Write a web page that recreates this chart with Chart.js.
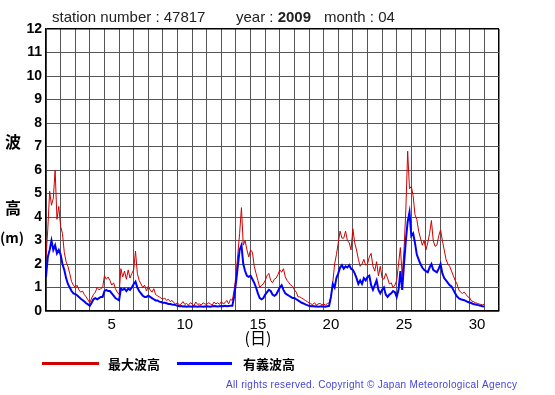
<!DOCTYPE html>
<html><head><meta charset="utf-8">
<script src="https://cdn.jsdelivr.net/npm/chart.js@4"></script>
<style>html,body{margin:0;padding:0;background:#fff;overflow:hidden}#wrap{width:555px;height:395px}</style>
</head><body><div id="wrap"><canvas id="c" width="555" height="395"></canvas></div>
<script>
// ---- data (3-hourly samples, starting day 1 00:00) ----
const stationNumber = '47817';
const yearText = '2009';
const monthText = '04';
const firstDay = 1;
const stepsPerDay = 8;
const seriesNames = ['最大波高', '有義波高'];
const dayLabels = [5, 10, 15, 20, 25, 30];
const yMax = 12;

const maxWave = [
  2.3, 3.5, 5.1, 4.5, 4.8, 6.0, 3.9, 4.45,
  3.6, 3.3, 2.5, 2.1, 1.9, 1.6, 1.25, 1.1,
  1.0, 1.1, 0.9, 0.8, 0.85, 0.7, 0.6, 0.47,
  0.35, 0.55, 0.7, 0.8, 1.0, 0.9, 0.95, 1.0,
  1.5, 1.35, 1.45, 1.3, 1.1, 1.2, 0.95, 0.8,
  0.7, 1.8, 1.45, 1.7, 1.35, 1.75, 1.4, 1.6,
  1.75, 2.55, 1.6, 1.3, 1.15, 1.0, 1.1, 0.85,
  1.05, 0.9, 0.8, 0.95, 0.7, 0.65, 0.6, 0.55,
  0.5, 0.55, 0.45, 0.5, 0.4, 0.45, 0.35, 0.3,
  0.35, 0.25, 0.3, 0.4, 0.28, 0.32, 0.25, 0.35,
  0.3, 0.22, 0.38, 0.28, 0.3, 0.25, 0.35, 0.3,
  0.28, 0.35, 0.3, 0.25, 0.38, 0.3, 0.35, 0.28,
  0.4, 0.3, 0.35, 0.45, 0.3, 0.5, 0.45, 0.9,
  1.5, 2.4, 3.3, 4.4, 2.8, 3.0, 2.6, 2.3,
  2.6, 2.5, 1.9, 1.6, 1.3, 1.0, 1.1, 1.15,
  1.3, 1.5, 1.6, 1.3, 1.2, 1.35, 1.4, 1.55,
  1.75, 1.65, 1.8, 1.45, 1.3, 1.2, 1.1, 1.05,
  0.9, 0.8, 0.6, 0.6, 0.55, 0.5, 0.45, 0.4,
  0.35, 0.3, 0.28, 0.35, 0.25, 0.3, 0.32, 0.27,
  0.3, 0.25, 0.32, 0.35, 0.6, 1.2, 2.0, 2.4,
  2.9, 3.4, 3.1, 3.1, 3.4, 3.0, 2.9, 2.6,
  3.5, 2.9, 2.6, 2.2, 1.9, 2.0, 2.2, 1.95,
  2.0, 2.3, 2.45, 1.9, 1.7, 2.1, 1.5, 1.9,
  1.4, 1.35, 1.6, 1.4, 1.15, 1.2, 1.0, 1.1,
  1.3, 2.0, 2.7, 1.5, 2.6, 4.3, 6.8, 5.2,
  5.3, 4.9, 4.1, 3.9, 3.4, 3.1, 2.8, 3.0,
  2.6, 2.9, 3.3, 3.85, 3.0, 2.75, 2.8, 3.2,
  3.45, 3.0, 2.6, 2.2, 2.0, 1.9, 1.7, 1.5,
  1.3, 1.15, 0.9, 0.8, 0.75, 0.8, 0.7, 0.6,
  0.55, 0.42, 0.4, 0.35, 0.33, 0.3, 0.28, 0.26,
  0.3
];

const sigWave = [
  1.45, 2.3, 2.6, 3.0, 2.6, 2.8, 2.45, 2.6,
  2.4, 2.0, 1.75, 1.4, 1.15, 1.0, 0.85, 0.75,
  0.72, 0.67, 0.6, 0.52, 0.47, 0.4, 0.33, 0.28,
  0.22, 0.35, 0.5, 0.55, 0.5, 0.55, 0.6, 0.6,
  0.85, 0.9, 0.85, 0.85, 0.75, 0.65, 0.55, 0.5,
  0.45, 0.95, 0.9, 0.95, 0.85, 0.95, 0.9, 1.0,
  1.15, 1.25, 1.0, 0.85, 0.75, 0.65, 0.6, 0.6,
  0.65, 0.6, 0.55, 0.5, 0.45, 0.45, 0.4, 0.38,
  0.35, 0.35, 0.33, 0.3, 0.3, 0.28, 0.27, 0.25,
  0.22, 0.2, 0.21, 0.19, 0.2, 0.18, 0.2, 0.19,
  0.18, 0.2, 0.19, 0.18, 0.2, 0.19, 0.18, 0.19,
  0.2, 0.19, 0.18, 0.2, 0.21, 0.2, 0.19, 0.2,
  0.21, 0.2, 0.22, 0.2, 0.21, 0.22, 0.22, 0.6,
  1.2, 1.9, 2.6, 2.8, 2.0, 1.7, 1.5, 1.45,
  1.5, 1.35, 1.2, 1.0, 0.75, 0.55, 0.5, 0.55,
  0.7, 0.8, 0.9, 0.85, 0.7, 0.65, 0.7, 0.85,
  1.0, 1.1, 0.9, 0.75, 0.7, 0.65, 0.6, 0.55,
  0.55, 0.5, 0.45, 0.4, 0.35, 0.32, 0.28, 0.25,
  0.22, 0.2, 0.21, 0.19, 0.2, 0.18, 0.19, 0.2,
  0.19, 0.18, 0.2, 0.22, 0.6, 1.15, 1.0, 1.4,
  1.6, 1.85, 1.95, 1.8, 1.9, 1.85, 1.95, 1.8,
  1.75, 1.6, 1.4, 1.15, 1.3, 1.15, 1.4, 1.3,
  1.45, 1.5, 1.1, 0.9, 1.1, 1.3, 0.9, 0.75,
  0.9, 1.0, 0.7, 0.6, 0.7, 0.75, 0.85, 0.8,
  0.6, 0.9, 1.7, 0.9, 2.0, 3.0, 3.8, 4.2,
  3.2, 3.3, 2.9, 2.4, 2.2, 2.0, 1.85, 1.75,
  1.7, 1.65, 1.85, 2.0, 1.75, 1.7, 1.65, 1.8,
  2.0, 1.6, 1.4, 1.3, 1.2, 1.1, 1.05, 0.9,
  0.75, 0.62, 0.54, 0.5, 0.48, 0.46, 0.42, 0.38,
  0.36, 0.33, 0.3, 0.28, 0.26, 0.24, 0.22, 0.2,
  0.19
];

const toPoints = arr => arr.map((v, i) => ({ x: firstDay + i / stepsPerDay, y: v }));

const RED = '#d00000';
const BLUE = '#0000ff';
const GRID = '#555555';
const LATIN = '"Liberation Sans", Arial, Helvetica, sans-serif';
const CJK = '"Noto Sans CJK JP", "Noto Sans", sans-serif';

const textPlugin = {
  id: 'texts',
  afterDraw(chart) {
    const c = chart.ctx;
    c.save();
    // title
    c.fillStyle = '#222';
    c.textAlign = 'left';
    c.textBaseline = 'alphabetic';
    c.font = '15px ' + LATIN;
    c.fillText('station number : ' + stationNumber, 52, 22);
    c.fillText('year : ', 236, 22);
    const w = c.measureText('year : ').width;
    c.font = 'bold 15px ' + LATIN;
    c.fillText(yearText, 236 + w, 22);
    c.font = '15px ' + LATIN;
    c.fillText('month : ' + monthText, 324, 22);

    // y title
    c.fillStyle = '#000';
    c.textAlign = 'center';
    c.textBaseline = 'middle';
    c.font = 'bold 16px ' + CJK;
    c.fillText('波', 13, 142);
    c.fillText('高', 13, 208);
    c.font = 'bold 14px ' + CJK;
    c.fillText('(m)', 12, 238);

    // x title
    c.font = '16px ' + CJK;
    c.fillText('(日)', 258, 338);

    // legend
    c.lineWidth = 3;
    c.strokeStyle = RED;
    c.beginPath(); c.moveTo(42, 363.5); c.lineTo(99, 363.5); c.stroke();
    c.strokeStyle = BLUE;
    c.beginPath(); c.moveTo(177, 363.5); c.lineTo(232, 363.5); c.stroke();
    c.textAlign = 'left';
    c.font = 'bold 13px ' + CJK;
    c.fillText(seriesNames[0], 108, 364);
    c.fillText(seriesNames[1], 243, 364);

    // copyright
    const cp = 'All rights reserved. Copyright \u00A9 Japan Meteorological Agency';
    c.font = '10px ' + LATIN;
    c.fillStyle = '#4444dd';
    const mw = c.measureText(cp).width;
    const ls = (291 - mw) / (cp.length - 1);
    let x = 226;
    for (const ch of cp) {
      c.fillText(ch, x, 385);
      x += c.measureText(ch).width + ls;
    }
    c.restore();
  }
};

new Chart(document.getElementById('c'), {
  type: 'line',
  data: {
    datasets: [
      { label: seriesNames[0], data: toPoints(maxWave), borderColor: RED, borderWidth: 1,
        pointRadius: 0, tension: 0, fill: false, order: 2 },
      { label: seriesNames[1], data: toPoints(sigWave), borderColor: BLUE, borderWidth: 2,
        pointRadius: 0, tension: 0, fill: false, order: 1 }
    ]
  },
  options: {
    responsive: false,
    animation: false,
    devicePixelRatio: 1,
    layout: { padding: { left: 0, right: 56, top: 29, bottom: 60 } },
    plugins: { legend: { display: false }, tooltip: { enabled: false }, title: { display: false } },
    scales: {
      x: {
        type: 'linear', min: 1, max: 32,
        afterBuildTicks: scale => {
          const t = [];
          for (let v = 1; v <= 32; v++) t.push({ value: v });
          dayLabels.forEach(d => t.push({ value: d + 0.5 }));
          t.sort((a, b) => a.value - b.value);
          scale.ticks = t;
        },
        afterFit: s => { s.height = 24; },
        ticks: {
          autoSkip: false, maxRotation: 0, padding: 5, color: '#000',
          font: { family: LATIN, size: 15 },
          callback: v => (Math.abs(v % 1 - 0.5) < 1e-6 ? String(v - 0.5) : '')
        },
        grid: {
          drawTicks: false,
          color: ctx => {
            const v = ctx.tick ? ctx.tick.value : 0;
            if (v === 1 || v === 32) return '#000';
            return (v % 1 === 0) ? GRID : 'rgba(0,0,0,0)';
          },
          lineWidth: ctx => {
            const v = ctx.tick ? ctx.tick.value : 0;
            return (v === 1 || v === 32) ? 1.5 : 1;
          }
        },
        border: { color: '#000', width: 1.5 }
      },
      y: {
        min: 0, max: yMax,
        afterFit: s => { s.width = 46; },
        ticks: { stepSize: 1, padding: 4, color: '#000', font: { family: LATIN, size: 14, weight: 'bold' } },
        grid: {
          drawTicks: false,
          color: ctx => (ctx.tick && (ctx.tick.value === 0 || ctx.tick.value === yMax)) ? '#000' : GRID,
          lineWidth: ctx => (ctx.tick && (ctx.tick.value === 0 || ctx.tick.value === yMax)) ? 1.5 : 1
        },
        border: { color: '#000', width: 1.5 }
      }
    }
  },
  plugins: [textPlugin]
});
</script>
</body></html>
